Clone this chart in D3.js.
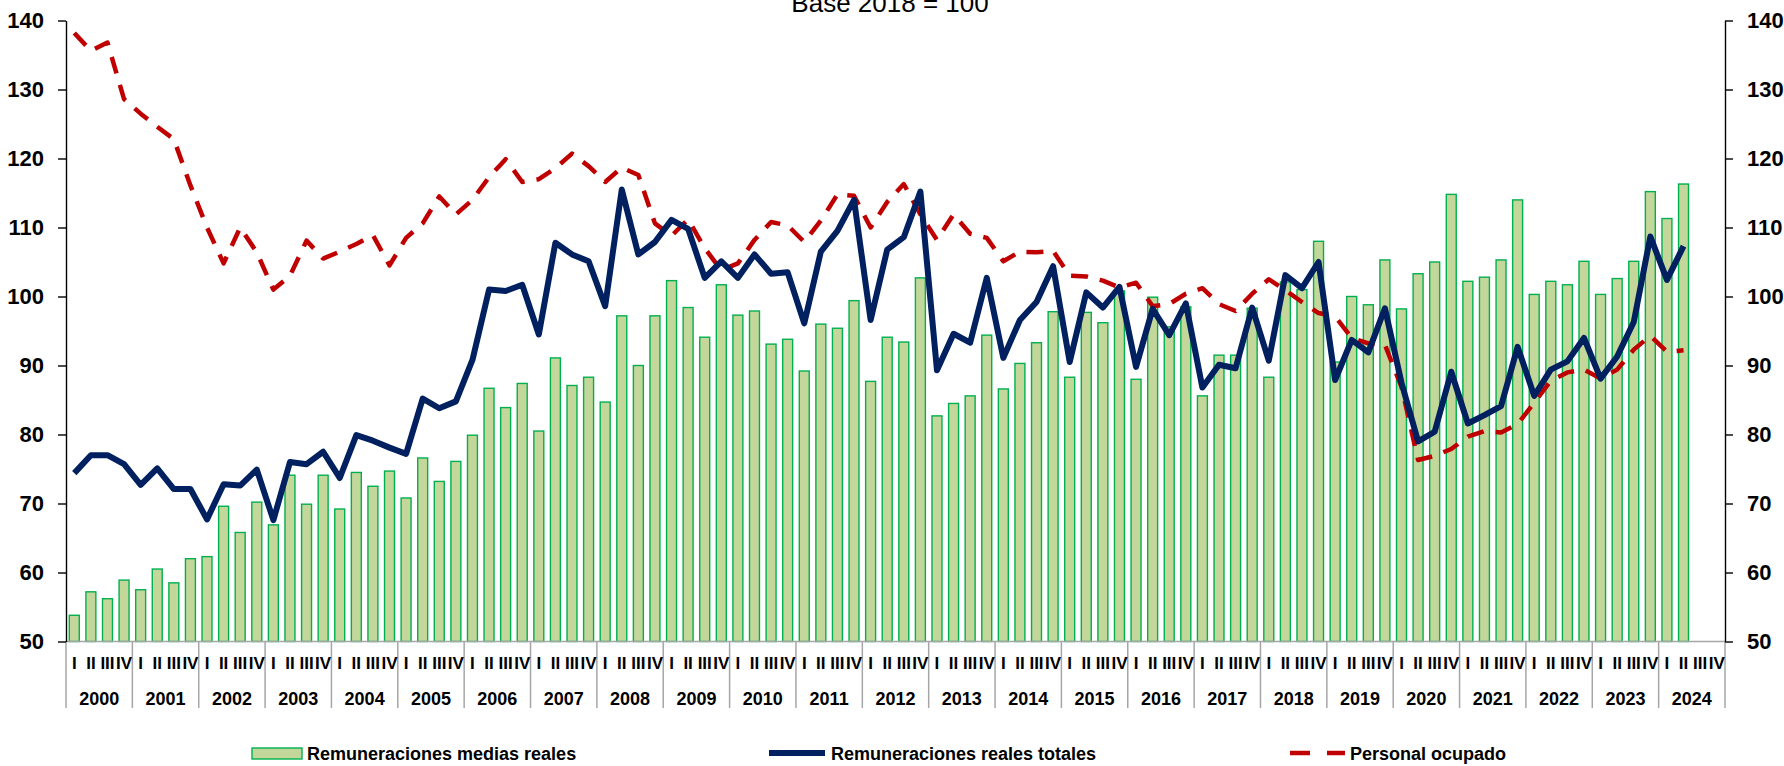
<!DOCTYPE html>
<html>
<head>
<meta charset="utf-8">
<script src="https://cdn.jsdelivr.net/npm/d3@7"></script>
<style>
  body { margin: 0; background: #fff; }
  svg { display: block; }
  .narrow { font-family: 'Liberation Sans Narrow', 'Arial Narrow', 'Liberation Sans', Arial, sans-serif; font-weight: bold; }
  .legend text { font-family: 'Liberation Sans', Arial, sans-serif; font-weight: bold; font-size: 18px; }
</style>
</head>
<body>
<div id="chart"></div>
<script>
//// categories
const years = [2000, 2001, 2002, 2003, 2004, 2005, 2006, 2007, 2008, 2009, 2010, 2011, 2012,
  2013, 2014, 2015, 2016, 2017, 2018, 2019, 2020, 2021, 2022, 2023, 2024];
const quarters = ['I', 'II', 'III', 'IV'];
const yTicks = [50, 60, 70, 80, 90, 100, 110, 120, 130, 140];

//// series (2000 I .. 2024 II)
const mediasReales = [
  53.8, 57.2, 56.2, 58.9,  57.5, 60.5, 58.5, 62.0,  62.3, 69.6, 65.8, 70.2,
  66.9, 74.1, 69.9, 74.1,  69.2, 74.5, 72.5, 74.7,  70.8, 76.6, 73.2, 76.1,
  79.9, 86.7, 83.9, 87.4,  80.5, 91.1, 87.1, 88.3,  84.7, 97.2, 90.0, 97.2,
  102.3, 98.4, 94.1, 101.7,  97.3, 97.9, 93.1, 93.8,  89.2, 96.0, 95.4, 99.4,
  87.7, 94.1, 93.4, 102.7,  82.7, 84.5, 85.6, 94.4,  86.6, 90.3, 93.3, 97.8,
  88.3, 97.7, 96.2, 100.8,  88.0, 99.9, 95.6, 98.5,  85.6, 91.5, 91.5, 98.3,
  88.3, 102.1, 101.0, 108.0,  90.5, 100.0, 98.8, 105.3,  98.2, 103.3, 105.0, 114.8,
  102.2, 102.8, 105.3, 114.0,  100.3, 102.2, 101.7, 105.1,  100.3, 102.6, 105.1, 115.2,
  111.3, 116.3
];
const realesTotales = [
  74.4, 77.0, 77.0, 75.7,  72.7, 75.1, 72.1, 72.1,  67.7, 72.8, 72.6, 74.9,
  67.6, 76.0, 75.7, 77.5,  73.7, 79.9, 79.1, 78.1,  77.2, 85.2, 83.8, 84.8,
  90.8, 101.0, 100.8, 101.7,  94.5, 107.8, 106.1, 105.1,  98.6, 115.5, 106.1, 107.9,
  111.1, 109.8, 102.7, 105.1,  102.7, 106.1, 103.3, 103.5,  96.1, 106.5, 109.5, 114.0,
  96.6, 106.8, 108.6, 115.2,  89.3, 94.6, 93.3, 102.7,  91.1, 96.6, 99.2, 104.4,
  90.5, 100.6, 98.4, 101.4,  89.8, 98.2, 94.4, 99.0,  86.8, 90.1, 89.6, 98.4,
  90.7, 103.1, 101.2, 105.0,  87.9, 93.7, 91.9, 98.3,  87.5, 79.0, 80.4, 89.1,
  81.6, 82.8, 84.1, 92.7,  85.6, 89.4, 90.6, 94.0,  88.1, 91.3, 96.3, 108.7,
  102.4, 107.3
];
const personalOcupado = [
  138.2, 135.6, 136.8, 128.6,  126.5, 124.6, 122.8, 116.1,  110.0, 104.8, 110.0, 106.4,
  101.0, 103.0, 108.1, 105.5,  106.5, 107.6, 108.9, 104.5,  108.5, 110.6, 114.5, 111.9,
  114.0, 117.3, 119.9, 116.6,  117.0, 118.6, 120.7, 118.9,  116.6, 118.7, 117.6, 110.6,
  108.8, 111.2, 107.0, 103.8,  104.8, 108.2, 110.8, 110.3,  107.9, 111.0, 114.8, 114.6,
  110.0, 113.7, 116.3, 111.9,  108.2, 111.9, 109.1, 108.5,  105.1, 106.5, 106.4, 106.6,
  103.0, 102.9, 102.3, 101.3,  102.0, 98.6, 98.9, 100.4,  101.2, 98.9, 97.9, 100.4,
  102.5, 100.9, 99.2, 97.6,  97.1, 94.0, 93.2, 93.0,  86.9, 76.3, 76.9, 77.9,
  79.7, 80.5, 80.3, 81.5,  84.6, 87.8, 89.0, 89.4,  88.1, 89.4, 92.3, 94.3,
  92.0, 92.2
];

const W = 1784, H = 766;
const plotLeft = 66, plotRight = 1725, plotTop = 20.5, plotBottom = 641.5;

const slots = [];
years.forEach(yr => quarters.forEach(q => slots.push(yr + '-' + q)));

const x = d3.scaleBand().domain(slots).range([plotLeft, plotRight]).paddingInner(0.4).paddingOuter(0.2);
const xYear = d3.scaleBand().domain(years).range([plotLeft, plotRight]);
const y = d3.scaleLinear().domain([50, 140]).range([plotBottom, plotTop]);
const cx = i => x(slots[i]) + x.bandwidth() / 2;

const svg = d3.select('#chart').append('svg')
  .attr('width', W).attr('height', H);
svg.append('rect').attr('width', W).attr('height', H).attr('fill', '#fff');

//// title (partly cut at top like the original)
svg.append('text')
  .attr('x', 890).attr('y', 12)
  .attr('text-anchor', 'middle')
  .style('font-family', "'Liberation Sans', Arial, sans-serif")
  .style('font-size', '26px')
  .text('Base 2018 = 100');

//// bars
svg.append('g').selectAll('rect')
  .data(mediasReales)
  .join('rect')
  .attr('x', (d, i) => x(slots[i]))
  .attr('width', x.bandwidth())
  .attr('y', d => y(d))
  .attr('height', d => y(50) - y(d))
  .attr('fill', '#c4d79b')
  .attr('stroke', '#00b050')
  .attr('stroke-width', 1.4);

//// x axis: baseline, quarter labels, year separators and labels
const xa = svg.append('g');
xa.append('line')
  .attr('x1', plotLeft).attr('x2', plotRight)
  .attr('y1', plotBottom).attr('y2', plotBottom)
  .attr('stroke', '#a6a6a6').attr('stroke-width', 1.5);
xa.selectAll('line.sep')
  .data(years.concat([null]))
  .join('line')
  .attr('class', 'sep')
  .attr('x1', d => d === null ? plotRight : xYear(d))
  .attr('x2', d => d === null ? plotRight : xYear(d))
  .attr('y1', plotBottom).attr('y2', 708)
  .attr('stroke', '#a6a6a6').attr('stroke-width', 1.5);
xa.selectAll('text.q')
  .data(slots)
  .join('text')
  .attr('class', 'q narrow')
  .attr('x', d => x(d) + x.bandwidth() / 2)
  .attr('y', 669)
  .attr('text-anchor', 'middle')
  .style('font-size', '17px')
  .text(d => d.split('-')[1]);
xa.selectAll('text.yr')
  .data(years)
  .join('text')
  .attr('class', 'yr narrow')
  .attr('x', d => xYear(d) + xYear.bandwidth() / 2)
  .attr('y', 705)
  .attr('text-anchor', 'middle')
  .style('font-size', '18px')
  .text(d => d);

//// y axes
const styleAxis = g => {
  g.select('.domain').attr('stroke', '#000').attr('stroke-width', 1.4);
  g.selectAll('.tick line').attr('stroke', '#000').attr('stroke-width', 1.4);
  g.selectAll('.tick text')
    .attr('class', 'narrow')
    .style('font-size', '22px')
    .attr('fill', '#000');
};
svg.append('g')
  .attr('transform', `translate(${plotLeft},0)`)
  .call(d3.axisLeft(y).tickValues(yTicks).tickSizeInner(8).tickSizeOuter(0).tickPadding(14))
  .call(styleAxis);
svg.append('g')
  .attr('transform', `translate(${plotRight},0)`)
  .call(d3.axisRight(y).tickValues(yTicks).tickSizeInner(8).tickSizeOuter(0).tickPadding(14))
  .call(styleAxis);

//// lines
const line = d3.line().x((d, i) => cx(i)).y(d => y(d));
svg.append('path')
  .datum(personalOcupado)
  .attr('d', line)
  .attr('fill', 'none')
  .attr('stroke', '#c00000')
  .attr('stroke-width', 4.5)
  .attr('stroke-dasharray', '17,12')
  .attr('stroke-linejoin', 'round');
svg.append('path')
  .datum(realesTotales)
  .attr('d', line)
  .attr('fill', 'none')
  .attr('stroke', '#002060')
  .attr('stroke-width', 6)
  .attr('stroke-linejoin', 'round');

//// legend
const lg = svg.append('g').attr('class', 'legend');
lg.append('rect')
  .attr('x', 252).attr('y', 748).attr('width', 50).attr('height', 11)
  .attr('fill', '#c4d79b').attr('stroke', '#00b050').attr('stroke-width', 1.4);
lg.append('text').attr('x', 307).attr('y', 760).text('Remuneraciones medias reales');
lg.append('line')
  .attr('x1', 769).attr('x2', 825).attr('y1', 753).attr('y2', 753)
  .attr('stroke', '#002060').attr('stroke-width', 6);
lg.append('text').attr('x', 831).attr('y', 760).text('Remuneraciones reales totales');
lg.append('line')
  .attr('x1', 1290).attr('x2', 1345).attr('y1', 753).attr('y2', 753)
  .attr('stroke', '#c00000').attr('stroke-width', 4.5)
  .attr('stroke-dasharray', '20,17');
lg.append('text').attr('x', 1350).attr('y', 760).text('Personal ocupado');
</script>
</body>
</html>
